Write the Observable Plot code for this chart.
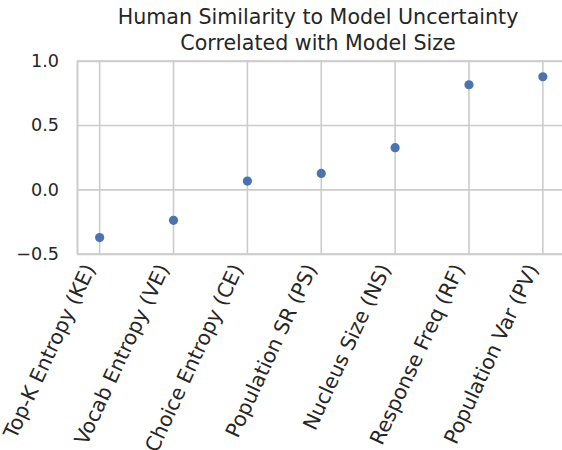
<!DOCTYPE html>
<html>
<head>
<meta charset="utf-8">
<script src="https://cdn.jsdelivr.net/npm/d3@7"></script>
<script src="https://cdn.jsdelivr.net/npm/@observablehq/plot@0.6"></script>
<style>
  html, body { margin: 0; padding: 0; background: #fff; }
  #wrap { width: 562px; height: 450px; overflow: hidden; position: relative; font-family: "DejaVu Sans", sans-serif; }
  #title { box-sizing: border-box; height: 56px; padding-top: 4px; margin-left: 76px; width: 484px;
           text-align: center; font-size: 20.6px; line-height: 26px; color: #262626; white-space: nowrap; }
  svg { display: block; overflow: visible; }
</style>
</head>
<body>
<div id="wrap">
  <div id="title">Human Similarity to Model Uncertainty<br>Correlated with Model Size</div>
  <div id="chart"></div>
</div>
<script>
const categories = [
  "Top-K Entropy (KE)",
  "Vocab Entropy (VE)",
  "Choice Entropy (CE)",
  "Population SR (PS)",
  "Nucleus Size (NS)",
  "Response Freq (RF)",
  "Population Var (PV)"
];
const values = [-0.371, -0.237, 0.068, 0.128, 0.328, 0.817, 0.879];
const yTicks = [-0.5, 0.0, 0.5, 1.0];

const data = categories.map((c, i) => ({i, c, v: values[i]}));
const idx = data.map(d => d.i);
const grid = "#cccccc";
const ink = "#262626";

const chart = Plot.plot({
  width: 562,
  height: 394,
  marginTop: 4.7,
  marginBottom: 196.3,
  marginLeft: 77,
  marginRight: 0,
  style: {fontFamily: "DejaVu Sans, sans-serif", color: ink, background: "#fff", overflow: "visible"},
  x: {domain: [-0.3, 6.3], range: [77, 564.5], axis: null},
  y: {domain: [-0.5, 1.0], axis: null},
  marks: [
    Plot.ruleY(yTicks, {y: d => d, stroke: grid, strokeWidth: 1.6}),
    Plot.ruleX(idx, {x: d => d, stroke: grid, strokeWidth: 1.6}),
    Plot.ruleX([-0.3], {x: d => d, stroke: grid, strokeWidth: 2}),
    Plot.ruleY([-0.5, 1.0], {y: d => d, stroke: grid, strokeWidth: 2}),
    Plot.axisY(yTicks, {
      label: null,
      tickSize: 0, tickPadding: 18.5, fontSize: 17.6, fill: ink,
      tickFormat: d => d3.format(".1f")(d).replace("-", "\u2212")
    }),
    Plot.text(data, {
      x: "i", text: "c", frameAnchor: "bottom", rotate: -65,
      textAnchor: "end", lineAnchor: "top", dx: -17, dy: 8,
      fontSize: 20.4, fill: ink
    }),
    Plot.dot(data, {x: "i", y: "v", r: 4.6, fill: "#4C72B0", stroke: "none"})
  ]
});
document.getElementById("chart").appendChild(chart);
</script>
</body>
</html>
